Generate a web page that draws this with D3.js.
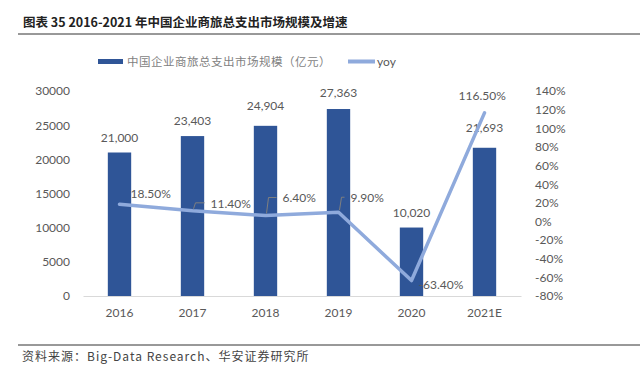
<!DOCTYPE html>
<html>
<head>
<meta charset="utf-8">
<script src="https://cdn.jsdelivr.net/npm/d3@7"></script>
<style>
  body { margin: 0; background: #fff; }
  svg { display: block; }
  text { font-family: Lato, "Open Sans", "Noto Sans", sans-serif; }
  .cjk { font-family: "Noto Sans CJK SC", sans-serif; white-space: pre; }
</style>
</head>
<body>
<div id="chart"></div>
<script>
// chart data
var years = ["2016", "2017", "2018", "2019", "2020", "2021E"];
var spend = [21000, 23403, 24904, 27363, 10020, 21693];
var yoy = [18.5, 11.4, 6.4, 9.9, -63.4, 116.5];
var leftTicks = [0, 5000, 10000, 15000, 20000, 25000, 30000];
var rightTicks = [-80, -60, -40, -20, 0, 20, 40, 60, 80, 100, 120, 140];

var width = 642, height = 365;
var barColor = "#2F5597", lineColor = "#8FAADC", textColor = "#595959";

var svg = d3.select("#chart").append("svg")
    .attr("width", width)
    .attr("height", height);

// title + rules
svg.append("text").attr("class", "cjk")
    .attr("x", 23).attr("y", 27)
    .attr("font-size", 12.5).attr("font-weight", "bold").attr("fill", "#222")
    .text("图表 35 2016-2021 年中国企业商旅总支出市场规模及增速");
svg.append("line").attr("x1", 18).attr("x2", 640).attr("y1", 34).attr("y2", 34)
    .attr("stroke", "#333").attr("stroke-width", 1);
svg.append("line").attr("x1", 18).attr("x2", 640).attr("y1", 345).attr("y2", 345)
    .attr("stroke", "#333").attr("stroke-width", 1);
svg.append("text").attr("class", "cjk")
    .attr("x", 22).attr("y", 361)
    .attr("font-size", 12).attr("fill", "#444").attr("letter-spacing", 1)
    .text("资料来源：Big-Data Research、华安证券研究所");

// scales
var x = d3.scaleBand().domain(years).range([83, 521]).paddingInner(0.68).paddingOuter(0.34);
var yL = d3.scaleLinear().domain([0, 30000]).range([296, 91]);
var yR = d3.scaleLinear().domain([-80, 140]).range([296, 91]);

// left axis
var axL = svg.append("g").attr("transform", "translate(83,0)")
    .call(d3.axisLeft(yL).tickValues(leftTicks).tickSize(0).tickPadding(13).tickFormat(d3.format("d")));
axL.select(".domain").remove();
axL.selectAll("text").attr("font-size", 12).attr("fill", textColor).attr("font-family", "Lato, sans-serif");

// right axis
var axR = svg.append("g").attr("transform", "translate(521,0)")
    .call(d3.axisRight(yR).tickValues(rightTicks).tickSize(0).tickPadding(14).tickFormat(function(d) { return d + "%"; }));
axR.select(".domain").remove();
axR.selectAll("text").attr("font-size", 12).attr("fill", textColor).attr("font-family", "Lato, sans-serif");

// bottom axis
var axB = svg.append("g").attr("transform", "translate(0,296)")
    .call(d3.axisBottom(x).tickSize(0).tickPadding(12));
axB.select(".domain").attr("stroke", "#d9d9d9").attr("stroke-width", 1);
axB.selectAll("text").attr("font-size", 12).attr("fill", textColor).attr("font-family", "Lato, sans-serif");

// bars
svg.selectAll(".bar").data(spend).enter().append("rect")
    .attr("class", "bar")
    .attr("x", function(d, i) { return x(years[i]); })
    .attr("y", function(d) { return yL(d); })
    .attr("width", x.bandwidth())
    .attr("height", function(d) { return yL(0) - yL(d); })
    .attr("fill", barColor);

// bar value labels (extra lift for a few to match source)
var barLift = [11, 11, 16, 12, 11, 16];
svg.selectAll(".blbl").data(spend).enter().append("text")
    .attr("class", "blbl")
    .attr("x", function(d, i) { return x(years[i]) + x.bandwidth() / 2; })
    .attr("y", function(d, i) { return yL(d) - barLift[i]; })
    .attr("text-anchor", "middle")
    .attr("font-size", 12).attr("fill", textColor)
    .text(function(d) { return d3.format(",")(d); });

// yoy line
var cx = function(i) { return x(years[i]) + x.bandwidth() / 2; };
var line = d3.line()
    .x(function(d, i) { return cx(i); })
    .y(function(d) { return yR(d); });
svg.append("path").datum(yoy)
    .attr("d", line)
    .attr("fill", "none")
    .attr("stroke", lineColor)
    .attr("stroke-width", 3.5)
    .attr("stroke-linejoin", "round")
    .attr("stroke-linecap", "round");

// yoy labels: offset from point [dx, dy], leader flag
var yoyPlace = [[11, -10, false], [18, -7, true], [17, -17, true], [12, -14, true], [7, 4, false], [-26, -17, false]];
yoy.forEach(function(v, i) {
    var px = cx(i), py = yR(v), p = yoyPlace[i];
    if (p[2]) {
        svg.append("path")
            .attr("d", "M" + (px + 1) + "," + (py - 2) + "L" + (px + 3) + "," + (py + p[1] - 1) + "L" + (px + p[0] - 6) + "," + (py + p[1] - 1))
            .attr("fill", "none").attr("stroke", "#7f7f7f").attr("stroke-width", 1);
    }
    svg.append("text")
        .attr("x", px + p[0])
        .attr("y", py + p[1] + 4)
        .attr("font-size", 12).attr("fill", textColor)
        .text(v.toFixed(2) + "%");
});

// legend
var lg = svg.append("g");
lg.append("rect").attr("x", 98).attr("y", 59).attr("width", 25).attr("height", 5).attr("fill", barColor);
lg.append("text").attr("class", "cjk").attr("x", 127).attr("y", 66)
    .attr("font-size", 11.5).attr("fill", "#7f7f7f").attr("letter-spacing", 0.5)
    .text("中国企业商旅总支出市场规模（亿元）");
lg.append("rect").attr("x", 348).attr("y", 59.5).attr("width", 27).attr("height", 4).attr("fill", lineColor);
lg.append("text").attr("x", 377).attr("y", 66)
    .attr("font-size", 12).attr("fill", textColor)
    .text("yoy");
</script>
</body>
</html>
